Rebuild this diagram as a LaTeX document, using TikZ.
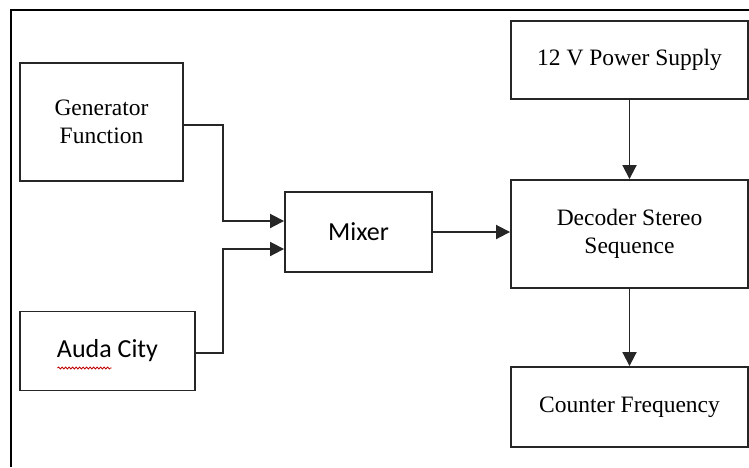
\documentclass[tikz,border=0pt]{standalone}
\usepackage{fontspec}
\setmainfont{Liberation Serif}
\newfontfamily\carlito{Carlito}
\usetikzlibrary{arrows.meta, calc, decorations.pathmorphing}
\newcommand{\rightwidth}{237pt}

\begin{document}
\begin{tikzpicture}[x = 1pt, y = -1pt, every node/.style = {rectangle, draw = black!85, line width = 1.9pt, inner sep = 0pt, align = center, font = \fontsize{23.5}{28}\selectfont}, link/.style = {draw = black!85, line width = 1.9pt, -{Triangle[length = 14pt, width = 14pt]}}, sans/.style = {font = \carlito\fontsize{26}{30}\selectfont}]
	\useasboundingbox (0, 0) rectangle (749, 467);
	\draw[line width = 1.6pt] (11, 467) -- (11, 10) -- (749, 10);

	\node (gen) at (101.5, 122) [minimum width = 163pt, minimum height = 118pt] {Generator \\ Function};
	\node (auda) at (107.5, 351) [sans, minimum width = 175pt, minimum height = 79pt] {Auda City};
	\node (mixer) at (358.5, 232) [sans, minimum width = 147pt, minimum height = 80pt] {Mixer};
	\node (power) at (629.5, 60) [minimum width = \rightwidth, minimum height = 78pt] {12 V Power Supply};
	\node (decoder) at (629.5, 234) [minimum width = \rightwidth, minimum height = 108pt] {Decoder Stereo \\ Sequence};
	\node (counter) at (629.5, 407) [minimum width = \rightwidth, minimum height = 80pt] {Counter Frequency};

	\coordinate (genJoint) at (223, 221);
	\coordinate (audaJoint) at (223, 249);
	\draw[link] ([yshift = -3pt]gen.east) -| (genJoint) -- (genJoint -| mixer.west);
	\draw[link] ([yshift = -2pt]auda.east) -| (audaJoint) -- (audaJoint -| mixer.west);
	\draw[link] (mixer.east) -- (mixer.east -| decoder.west);
	\foreach \from/\to in {power/decoder, decoder/counter}
		\path (\from) edge [link] (\to);

	% spell-check underline
	\draw[red!75!black, line width = 0.8pt, decorate, decoration = {snake, amplitude = 1pt, segment length = 3.5pt}] ($(auda.center) + (-50, 17)$) -- ($(auda.center) + (4, 17)$);
\end{tikzpicture}
\end{document}
